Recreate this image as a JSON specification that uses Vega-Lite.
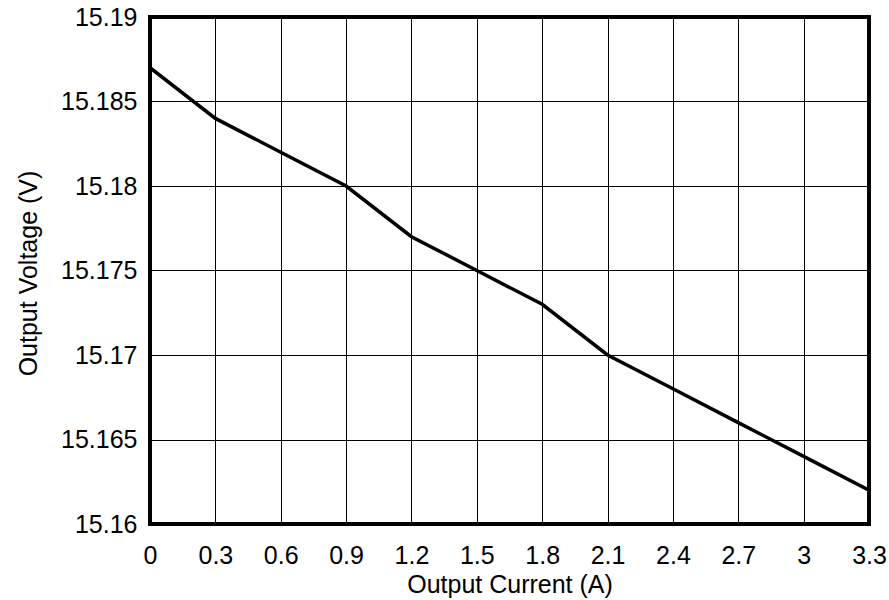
{
  "$schema": "https://vega.github.io/schema/vega-lite/v6.json",
  "autosize": "none",
  "width": 719,
  "height": 507,
  "padding": {"left": 150, "top": 17, "right": 20, "bottom": 76},
  "background": "white",
  "config": {
    "font": "Liberation Sans",
    "view": {"stroke": "black", "strokeWidth": 4}
  },
  "data": {
    "values": [
      {"current": 0.0, "voltage": 15.187},
      {"current": 0.3, "voltage": 15.184},
      {"current": 0.6, "voltage": 15.182},
      {"current": 0.9, "voltage": 15.180},
      {"current": 1.2, "voltage": 15.177},
      {"current": 1.5, "voltage": 15.175},
      {"current": 1.8, "voltage": 15.173},
      {"current": 2.1, "voltage": 15.170},
      {"current": 2.4, "voltage": 15.168},
      {"current": 2.7, "voltage": 15.166},
      {"current": 3.0, "voltage": 15.164},
      {"current": 3.3, "voltage": 15.162}
    ]
  },
  "mark": {"type": "line", "color": "black", "strokeWidth": 3.5, "clip": true},
  "encoding": {
    "x": {
      "field": "current",
      "type": "quantitative",
      "scale": {"domain": [0, 3.3], "nice": false, "zero": false},
      "axis": {
        "title": "Output Current (A)",
        "values": [0, 0.3, 0.6, 0.9, 1.2, 1.5, 1.8, 2.1, 2.4, 2.7, 3.0, 3.3],
        "format": ".1~f",
        "domain": false,
        "ticks": false,
        "labelPadding": 39,
        "labelBaseline": "alphabetic",
        "labelFontSize": 25,
        "labelColor": "black",
        "labelFlush": false,
        "titleFontSize": 25,
        "titleFontWeight": "normal",
        "titleColor": "black",
        "titleBaseline": "alphabetic",
        "titleY": 68,
        "gridColor": "black",
        "gridWidth": 1,
        "gridOpacity": 1
      }
    },
    "y": {
      "field": "voltage",
      "type": "quantitative",
      "scale": {"domain": [15.16, 15.19], "nice": false, "zero": false},
      "axis": {
        "title": "Output Voltage (V)",
        "values": [15.16, 15.165, 15.17, 15.175, 15.18, 15.185, 15.19],
        "format": ".3~f",
        "domain": false,
        "ticks": false,
        "labelPadding": 13,
        "labelFontSize": 25,
        "labelColor": "black",
        "labelFlush": false,
        "titleFontSize": 25,
        "titleFontWeight": "normal",
        "titleColor": "black",
        "titleBaseline": "alphabetic",
        "titleX": -114,
        "titleY": 256,
        "gridColor": "black",
        "gridWidth": 1,
        "gridOpacity": 1
      }
    }
  }
}
